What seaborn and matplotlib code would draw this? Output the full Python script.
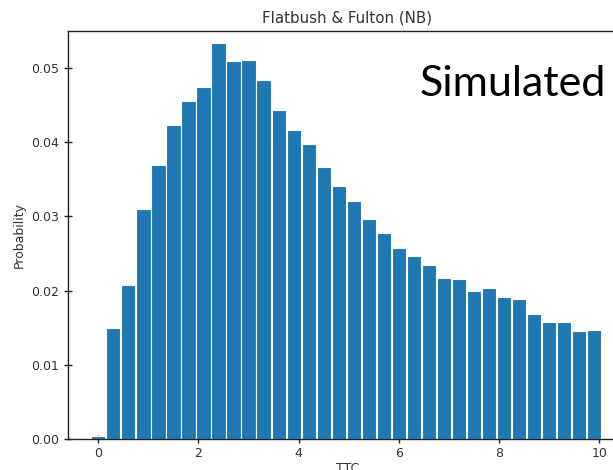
import matplotlib
matplotlib.use("Agg")
import matplotlib.pyplot as plt
import seaborn as sns
import pandas as pd

# TTC bin positions (seconds) and simulated probability per bin
ttc = [0.0, 0.3, 0.6, 0.9, 1.2, 1.5, 1.8, 2.1, 2.4, 2.7,
       3.0, 3.3, 3.6, 3.9, 4.2, 4.5, 4.8, 5.1, 5.4, 5.7,
       6.0, 6.3, 6.6, 6.9, 7.2, 7.5, 7.8, 8.1, 8.4, 8.7,
       9.0, 9.3, 9.6, 9.9]
probability = [0.0004, 0.0149, 0.0208, 0.0310, 0.0369, 0.0423, 0.0455, 0.0474, 0.0534, 0.0509,
               0.0511, 0.0484, 0.0443, 0.0416, 0.0398, 0.0367, 0.0341, 0.0320, 0.0296, 0.0278,
               0.0257, 0.0247, 0.0235, 0.0217, 0.0215, 0.0200, 0.0204, 0.0191, 0.0188, 0.0168,
               0.0157, 0.0157, 0.0146, 0.0147]
x_ticks = [0, 2, 4, 6, 8, 10]
y_ticks = [0.00, 0.01, 0.02, 0.03, 0.04, 0.05]

df = pd.DataFrame({"TTC": ttc, "Probability": probability})

sns.set_style("ticks")
plt.rcParams["font.family"] = ["DejaVu Sans"]

W, H = 613, 470
fig = plt.figure(figsize=(W / 100, H / 100), dpi=100)
# axes extends slightly past the right edge of the canvas
left_px, right_px, top_px, bottom_px = 67.7, 626.9, 30.7, 439.0
ax = fig.add_axes([left_px / W, (H - bottom_px) / H,
                   (right_px - left_px) / W, (bottom_px - top_px) / H])

sns.barplot(data=df, x="TTC", y="Probability", native_scale=True,
            width=0.95, color="#1f77b4", saturation=1,
            edgecolor="white", linewidth=0.8, ax=ax)

ax.set_xlim(-0.61, 10.55)
ax.set_ylim(0, 0.0550)
ax.set_xticks(x_ticks)
ax.set_xticklabels([str(t) for t in x_ticks])
ax.set_yticks(y_ticks)
ax.set_yticklabels([f"{t:.2f}" for t in y_ticks])

for s in ax.spines.values():
    s.set_visible(True)
    s.set_color("#222222")
    s.set_linewidth(1.0)

ax.tick_params(axis="both", direction="inout", length=6, width=1,
               color="#222222", labelsize=9, labelcolor="#333333", pad=3)
ax.set_xlabel("TTC", fontsize=9, color="#333333", labelpad=1)
ax.set_ylabel("Probability", fontsize=9, color="#333333", labelpad=4)
ax.set_title("Flatbush & Fulton (NB)", fontsize=10.8, color="#333333", pad=6)

fig.text(420 / W, 1 - 96 / H, "Simulated", fontsize=31,
         family=["Lato", "DejaVu Sans"], color="black", ha="left", va="baseline")

fig.savefig("out.png", dpi=100)
